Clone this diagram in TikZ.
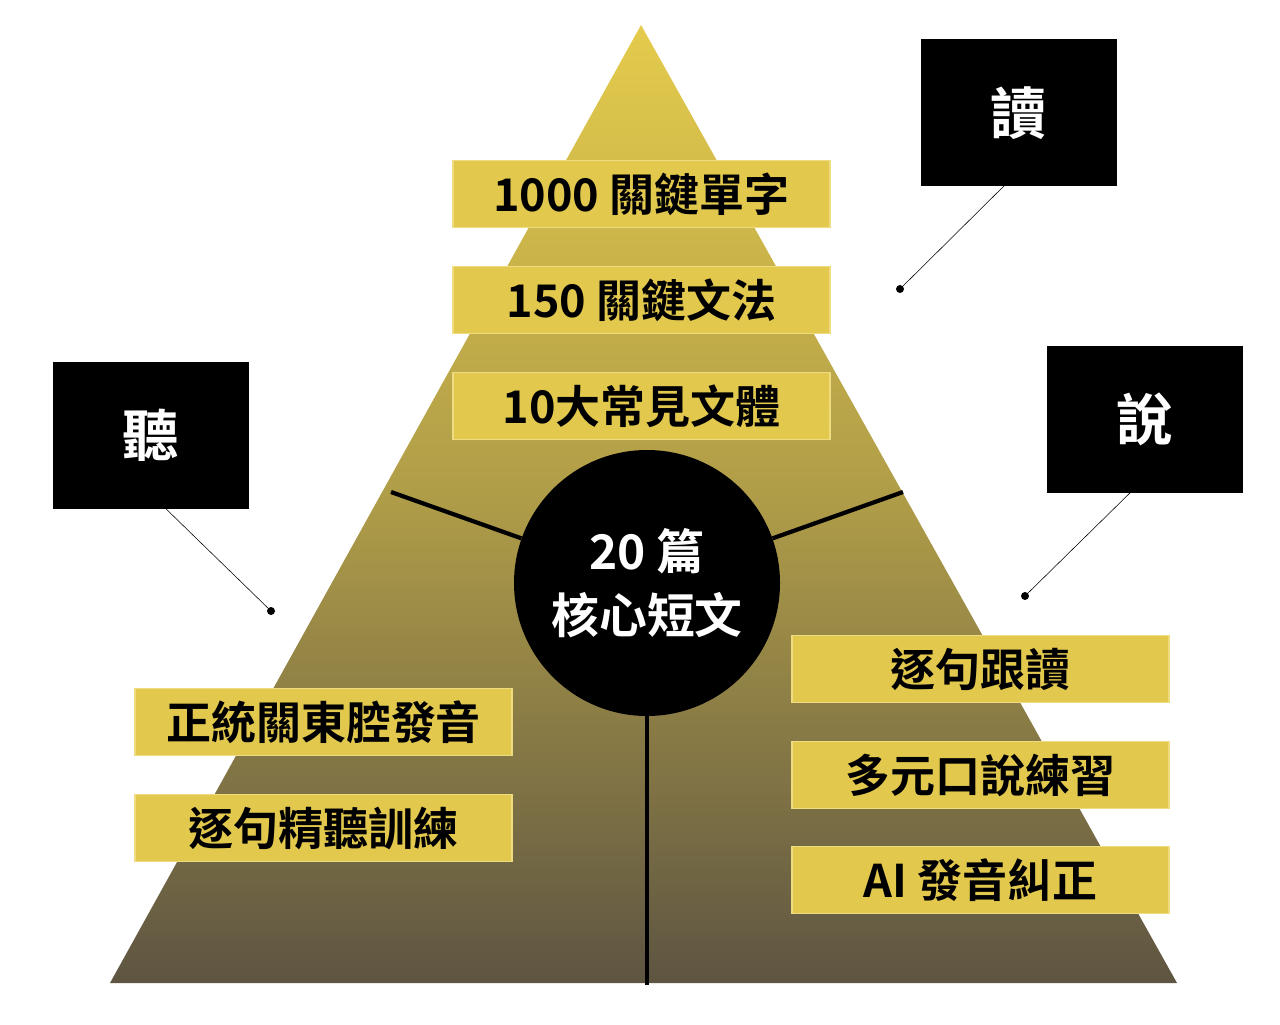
\documentclass[tikz,border=0pt]{standalone}
\usepackage{fontspec}
\setmainfont{Noto Sans CJK TC}[BoldFont={* Bold}]
\usetikzlibrary{positioning}
\definecolor{gold}{HTML}{E2C94E}
\definecolor{goldedge}{HTML}{F0DC80}
\definecolor{pyrtop}{HTML}{E4CB4C}
\definecolor{pyrbot}{HTML}{5E5542}
\tikzset{
  goldbox/.style={fill=gold, draw=goldedge, line width=1pt, minimum width=377*0.025cm,
    minimum height=67*0.025cm, inner sep=0pt, font=\fontsize{32}{36}\selectfont\bfseries},
  blackbox/.style={fill=black, text=white, minimum width=196*0.025cm,
    minimum height=147*0.025cm, inner sep=0pt, font=\fontsize{40}{44}\selectfont\bfseries},
  pointer/.style={thin, black},
  spoke/.style={line width=3pt, black},
}
\begin{document}
\begin{tikzpicture}[x=0.025cm, y=-0.025cm]
\useasboundingbox (0,0) rectangle (1280,1024);

% pyramid
\shade[top color=pyrtop, bottom color=pyrbot, middle color=pyrtop!60!pyrbot]
  (641,25) -- (1177,983) -- (110,983) -- cycle;

\coordinate (sl) at (391,492);
\coordinate (sr) at (903,492);
\coordinate (sb) at (647,985);

\node[circle, fill=black, minimum size=266*0.025cm, inner sep=0pt] (core) at (647,583) {};
\draw[spoke] (core) -- (sl);
\draw[spoke] (core) -- (sr);
\draw[spoke] (core) -- (sb);
\node[text=white, align=center, font=\fontsize{34}{46}\selectfont\bfseries] at (core) {20 篇\\核心短文};

% top boxes
\node[goldbox] (word)  at (641.5,194) {1000 關鍵單字};
\node[goldbox] (gram)  at (641.5,300) {150 關鍵文法};
\node[goldbox] (style) at (641.5,406) {10大常見文體};

% left boxes
\node[goldbox] (tone)  at (323.5,722) {正統關東腔發音};
\node[goldbox] (hear)  at (323.5,828) {逐句精聽訓練};

% right boxes
\node[goldbox] (shadow) at (980.5,669) {逐句跟讀};
\node[goldbox] (talk)   at (980.5,775) {多元口說練習};
\node[goldbox] (ai)     at (980.5,880) {AI 發音糾正};

% labels
\node[blackbox] (read)   at (1019,113) {讀};
\node[blackbox] (listen) at (151,435) {聽};
\node[blackbox] (speak)  at (1145,419) {說};

\coordinate (pr) at (900,289);
\coordinate (pl) at (271,611);
\coordinate (ps) at (1025,596);
\draw[pointer] (1010,180) -- (pr);
\draw[pointer] (160,503) -- (pl);
\draw[pointer] (1137,486) -- (ps);
\foreach \p in {pr,pl,ps}
  \fill (\p) circle (4);
\end{tikzpicture}
\end{document}
